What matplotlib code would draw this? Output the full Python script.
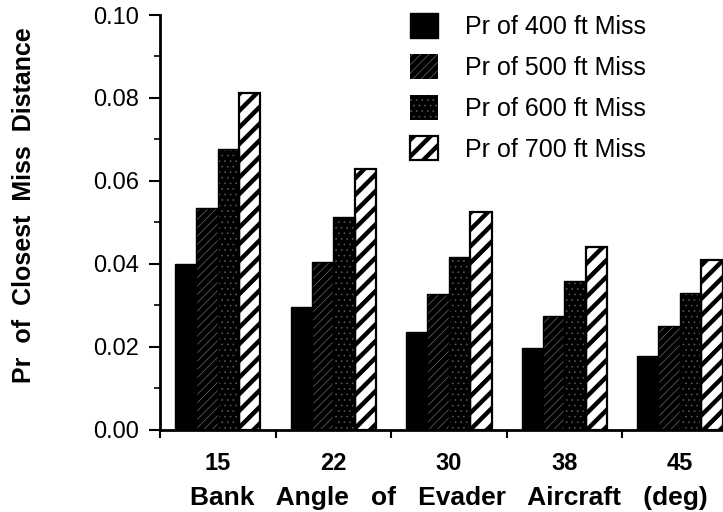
import numpy as np
import matplotlib
matplotlib.use("Agg")
import matplotlib.pyplot as plt

# bank angle groups and probability of miss distance
angles = ["15", "22", "30", "38", "45"]
series_names = ["Pr of 400 ft Miss", "Pr of 500 ft Miss",
                "Pr of 600 ft Miss", "Pr of 700 ft Miss"]
miss_400 = [0.040, 0.0296, 0.0237, 0.0198, 0.0178]
miss_500 = [0.0535, 0.0405, 0.0328, 0.0275, 0.0250]
miss_600 = [0.0677, 0.0513, 0.0417, 0.0358, 0.0330]
miss_700 = [0.0812, 0.0628, 0.0525, 0.0442, 0.0410]

plt.rcParams['font.family'] = ['Liberation Sans', 'DejaVu Sans']
plt.rcParams['hatch.linewidth'] = 0.5

fig = plt.figure(figsize=(7.23, 5.12), dpi=100)
ax = fig.add_axes([0.2213, 0.1602, 0.7988, 0.8105])

x = np.arange(len(angles))
w = 0.185
styles = [
    dict(facecolor='black', edgecolor='black', hatch=None, hlw=1.0, lw=1.0),
    dict(facecolor='black', edgecolor='#6a6a6a', hatch='////', hlw=0.5, lw=0),
    dict(facecolor='black', edgecolor='#555555', hatch='...', hlw=0.5, lw=0),
    dict(facecolor='white', edgecolor='black', hatch='//', hlw=3.2, lw=1.6),
]
data = [miss_400, miss_500, miss_600, miss_700]

for i, (vals, name, st) in enumerate(zip(data, series_names, styles)):
    bars = ax.bar(x + (i - 1.5) * w, vals, width=w, facecolor=st['facecolor'],
                  edgecolor=st['edgecolor'], hatch=st['hatch'], linewidth=st['lw'],
                  label=name, zorder=2)
    for p in bars:
        if hasattr(p, 'set_hatch_linewidth'):
            p.set_hatch_linewidth(st['hlw'])
    if st['lw'] == 0:
        # black outline over the hatched dark bars
        ax.bar(x + (i - 1.5) * w, vals, width=w, fill=False,
               edgecolor='black', linewidth=1.0, zorder=3)

ax.set_xlim(-0.5, 4.5)
ax.set_ylim(0, 0.10)
ax.set_yticks(np.arange(0, 0.101, 0.02))
ax.set_yticklabels([f"{v:.2f}" for v in np.arange(0, 0.101, 0.02)], fontsize=17)
ax.set_yticks(np.arange(0.01, 0.1, 0.02), minor=True)
ax.set_xticks(np.arange(-0.5, 4.6, 1.0))
ax.set_xticklabels([])
ax.set_xticks(x, minor=True)
ax.set_xticklabels(angles, minor=True, fontsize=17, fontweight='bold')

ax.tick_params(axis='y', which='major', length=8, width=1.5, direction='out', pad=7)
ax.tick_params(axis='y', which='minor', length=4, width=1.2, direction='out')
ax.tick_params(axis='x', which='major', length=6, width=1.5, direction='out')
ax.tick_params(axis='x', which='minor', length=0, pad=16)

for s in ['top', 'right']:
    ax.spines[s].set_visible(False)
for s in ['left', 'bottom']:
    ax.spines[s].set_linewidth(2)

ax.set_ylabel("Pr  of  Closest  Miss  Distance", fontsize=18, fontweight='bold')
ax.yaxis.set_label_coords(-0.215, 0.542)
ax.set_xlabel("Bank   Angle   of   Evader   Aircraft   (deg)", fontsize=19,
              fontweight='bold')
ax.xaxis.set_label_coords(0.5, -0.135)

leg = ax.legend(loc='upper left', bbox_to_anchor=(0.411, 1.034), frameon=False,
                fontsize=18, handlelength=1.12, handleheight=1.12, borderpad=0,
                labelspacing=0.61, handletextpad=1.08)
for h, st in zip(leg.legend_handles, styles):
    if hasattr(h, 'set_hatch_linewidth'):
        h.set_hatch_linewidth(st['hlw'])

fig.savefig("out.png", dpi=100)
